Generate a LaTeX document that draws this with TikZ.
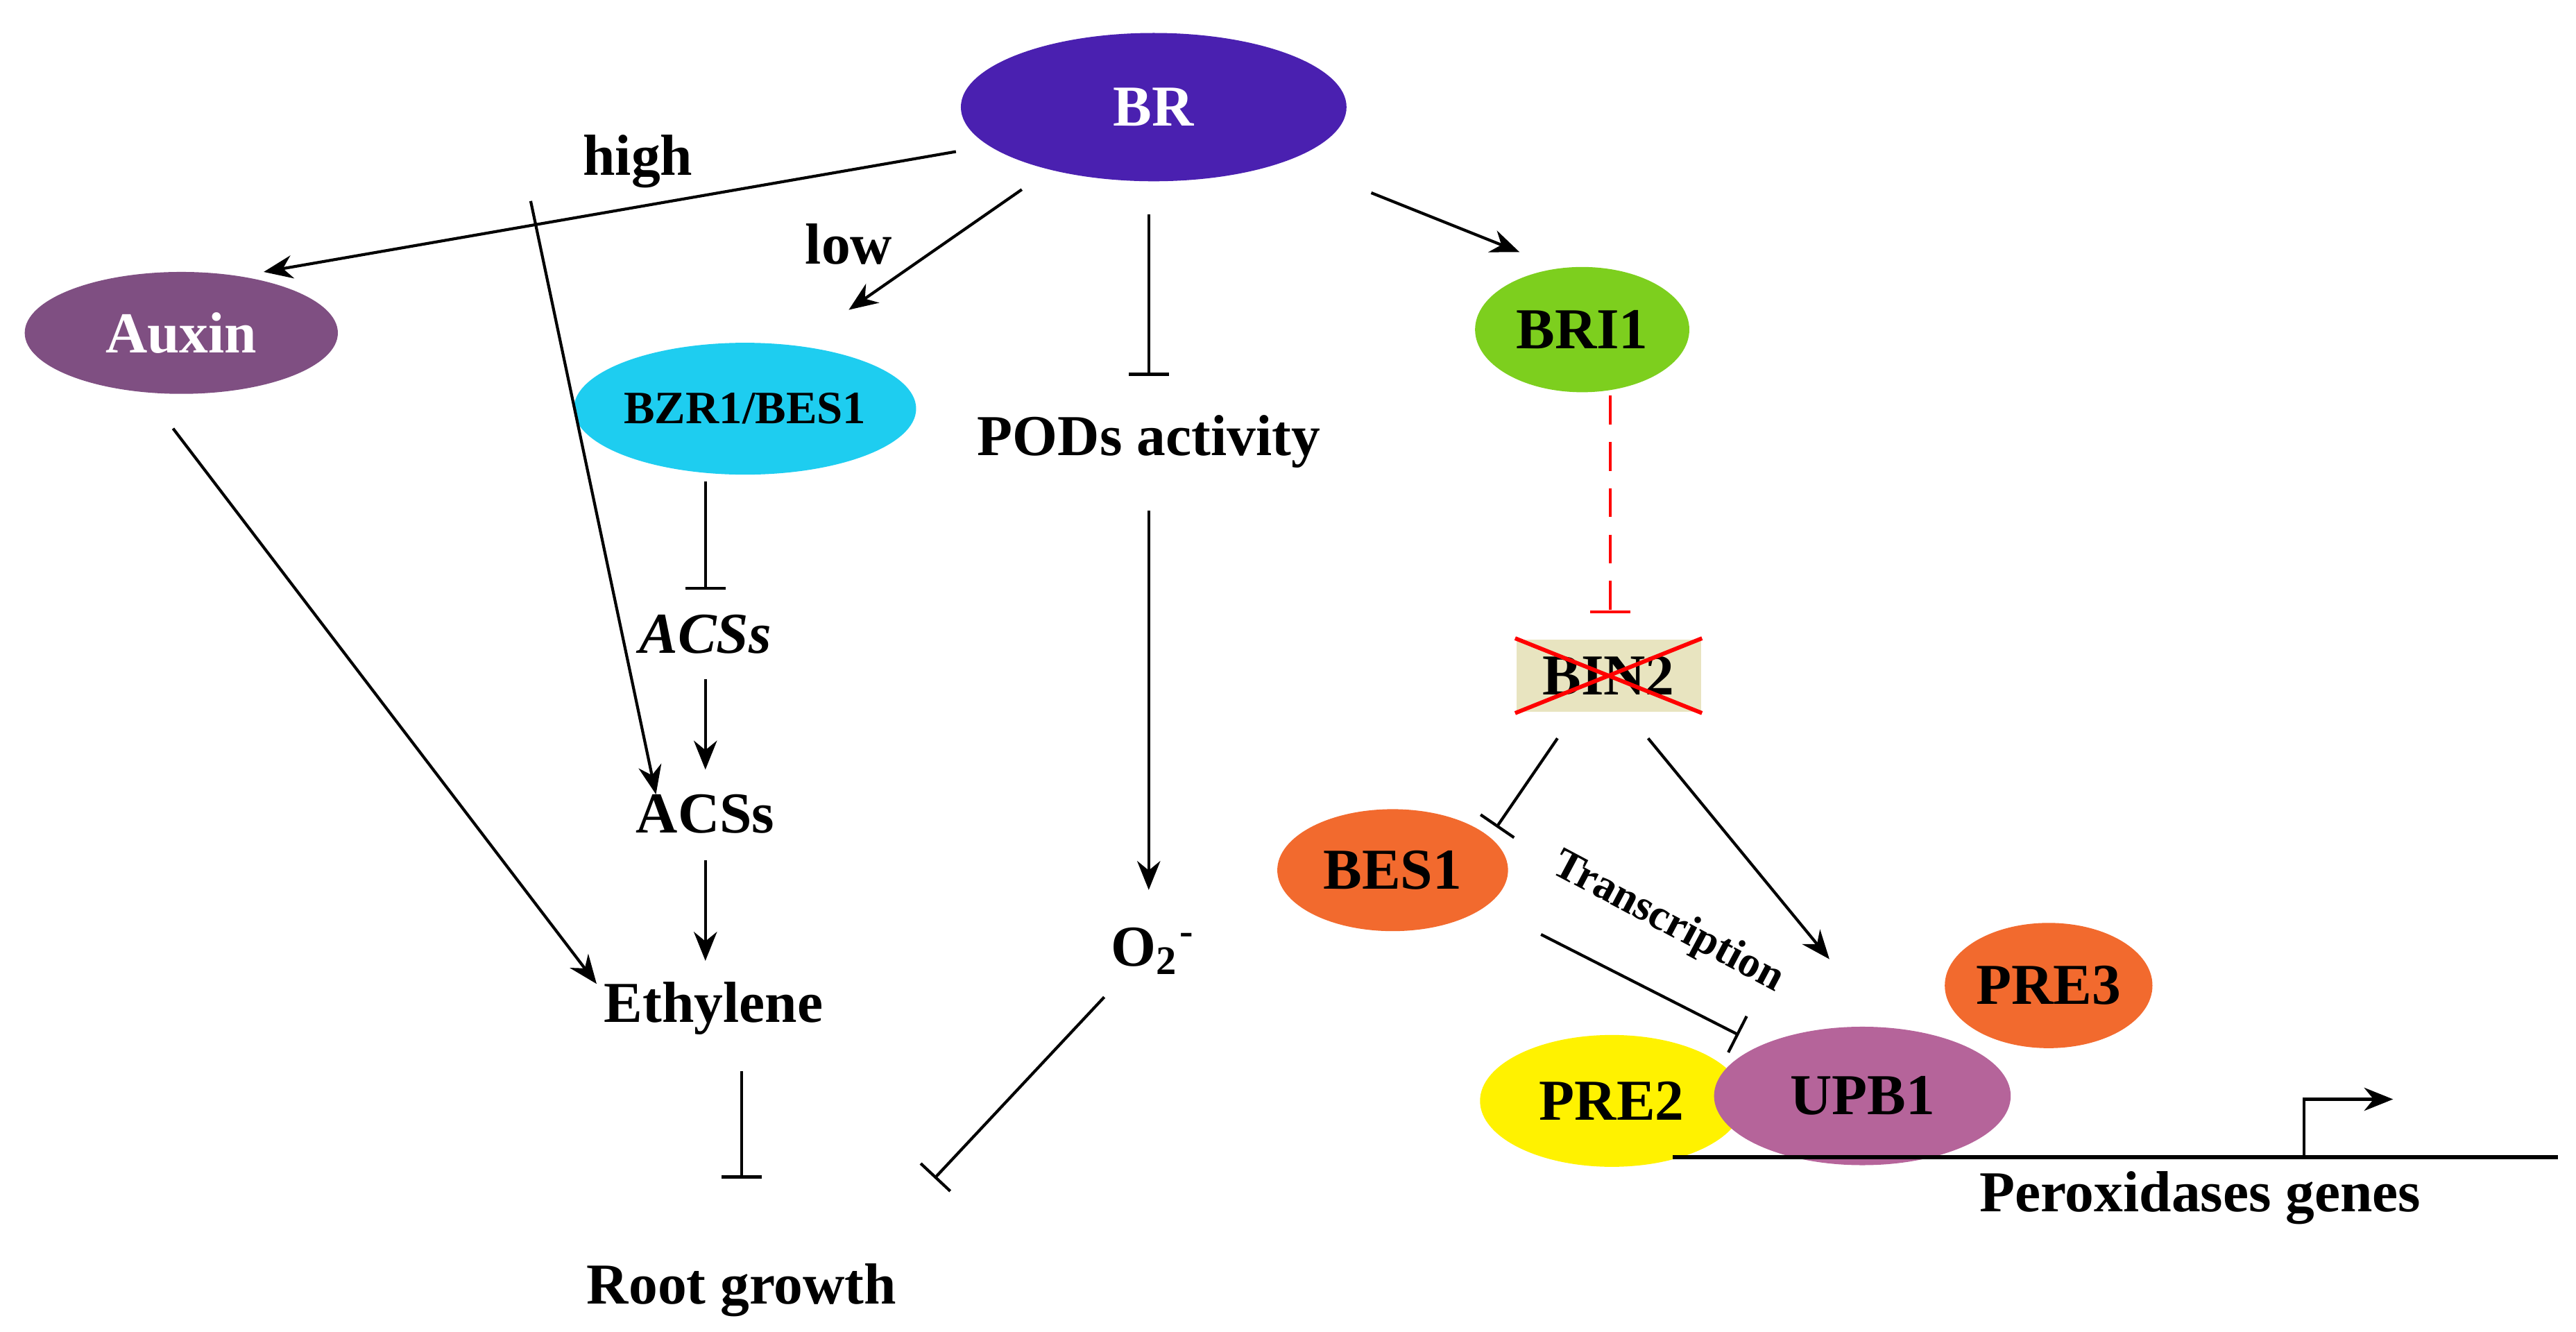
\documentclass[tikz,border=0pt]{standalone}
\usepackage{fontspec}
\setmainfont{Liberation Serif}
\usetikzlibrary{arrows.meta,shapes.geometric}
\begin{document}
\begin{tikzpicture}[x=0.1mm,y=-0.1mm,
 el/.style={ellipse,draw=none,inner sep=0pt,font=\fontsize{10}{11}\selectfont\bfseries},
 lab/.style={inner sep=1pt,font=\fontsize{10}{11}\selectfont\bfseries},
 ar/.style={line width=0.5pt,-{Stealth[length=5pt,width=4pt]}},
 tb/.style={line width=0.5pt,-{Bar[width=7pt]}}]
\useasboundingbox (0,0) rectangle (1563,808);
\node[el,fill={rgb,255:red,74;green,32;blue,176},text=white,minimum width=23.4mm,minimum height=9mm] (br) at (700,65) {BR};
\node[el,fill={rgb,255:red,127;green,79;blue,130},text=white,minimum width=19mm,minimum height=7.4mm] (aux) at (110,202) {Auxin};
\node[el,fill={rgb,255:red,30;green,205;blue,240},minimum width=16.4mm,minimum height=8mm,font=\fontsize{8}{9}\selectfont\bfseries] (bzr) at (452,248) {BZR1/BES1};
\node[el,fill={rgb,255:red,125;green,207;blue,30},minimum width=13mm,minimum height=7.6mm] (bri) at (960,200) {BRI1};
\node[lab,fill={rgb,255:red,232;green,228;blue,192},minimum width=11.2mm,minimum height=4.4mm] (bin) at (976,410) {BIN2};
\draw[red,line width=0.7pt] (bin.north west)--(bin.south east) (bin.south west)--(bin.north east);
\node[el,fill={rgb,255:red,242;green,106;blue,46},minimum width=14mm,minimum height=7.4mm] (bes) at (845,528) {BES1};
\node[el,fill={rgb,255:red,242;green,106;blue,46},minimum width=12.6mm,minimum height=7.6mm] (pre3) at (1243,598) {PRE3};
\node[el,fill=yellow,minimum width=16mm,minimum height=8mm] (pre2) at (978,668) {PRE2};
\node[el,fill={rgb,255:red,181;green,100;blue,154},minimum width=18mm,minimum height=8.4mm] (upb) at (1130,665) {UPB1};
\node[lab] (high) at (387,98) {high};
\node[lab] (low) at (515,148) {low};
\node[lab] (pod) at (697,268) {PODs activity};
\node[lab,font=\fontsize{10}{11}\selectfont\bfseries\itshape] (acs1) at (428,385) {ACSs};
\node[lab] (acs2) at (428,494) {ACSs};
\node[lab] (eth) at (433,612) {Ethylene};
\node[lab] (o2) at (700,577) {O\textsubscript{2}\textsuperscript{-}};
\node[lab] (root) at (450,783) {Root growth};
\node[lab,rotate=-28,inner sep=0pt,font=\fontsize{7.5}{8}\selectfont\bfseries] (tr) at (1012,560) {Transcription};
\node[lab] (per) at (1335,727) {Peroxidases genes};
\coordinate (b1) at (580,92); \coordinate (a1) at (160,165);
\coordinate (j) at (322,122);
\draw[ar] (b1)--(a1);
\draw[ar] (j)--(398,482);
\draw[ar] (620,115)--(515,188);
\draw[tb] (697,130)--(697,228);
\draw[ar] (832,117)--(922,153);
\draw[ar] (105,260)--(362,597);
\draw[tb] (428,292)--(428,358);
\draw[ar] (428,412)--(428,467);
\draw[ar] (428,522)--(428,583);
\draw[tb] (450,650)--(450,715);
\draw[ar] (697,310)--(697,540);
\draw[tb] (670,605)--(567,715);
\draw[tb,red,dash pattern=on 5pt off 3pt] (977,240)--(977,372);
\draw[tb] (945,448)--(908,502);
\draw[ar] (1000,448)--(1110,582);
\draw[tb] (935,567)--(1055,628);
\draw[line width=0.7pt] (1015,702)--(1552,702);
\draw[ar] (1398,702)--(1398,667)--(1452,667);
\end{tikzpicture}
\end{document}
